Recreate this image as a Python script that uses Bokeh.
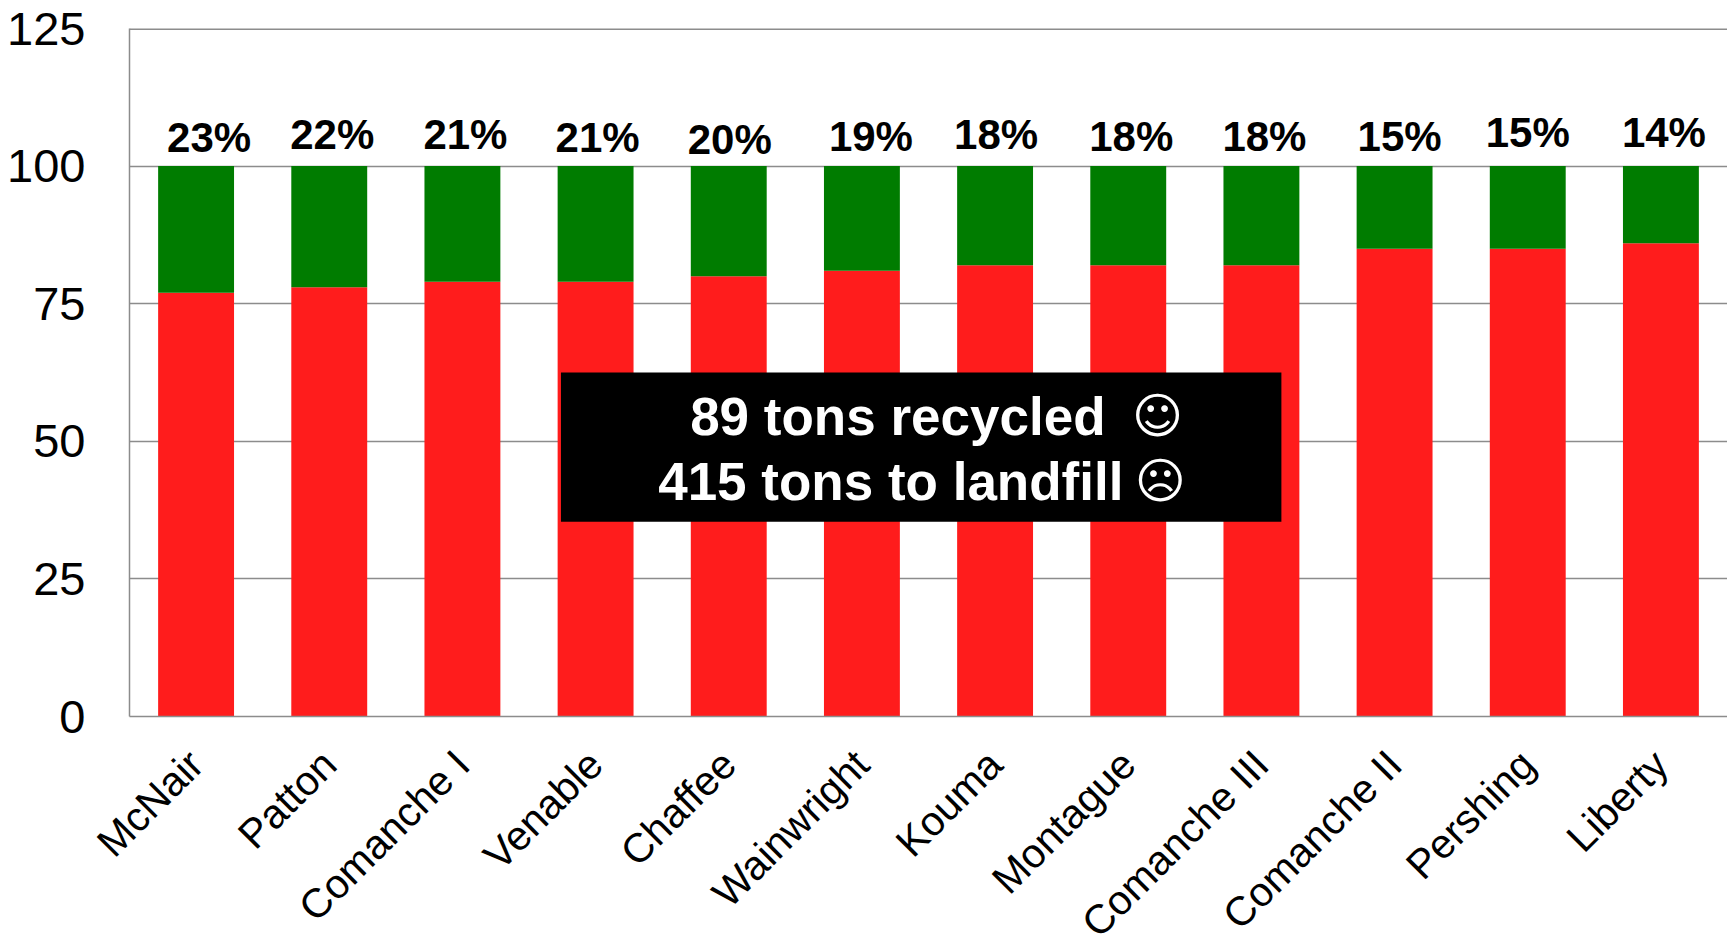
from math import pi
from bokeh.plotting import figure
from bokeh.models import ColumnDataSource, FactorRange, Range1d, BoxAnnotation, Label, Span
from bokeh.core.properties import value
from bokeh.embed import file_html
from bokeh.resources import INLINE

plants = ["McNair", "Patton", "Comanche I", "Venable", "Chaffee", "Wainwright", "Kouma",
          "Montague", "Comanche III", "Comanche II", "Pershing", "Liberty"]
landfill = [77, 78, 79, 79, 80, 81, 82, 82, 82, 85, 85, 86]
recycled = [23, 22, 21, 21, 20, 19, 18, 18, 18, 15, 15, 14]
y_ticks = [0, 25, 50, 75, 100, 125]
note_recycled = "89 tons recycled"
note_landfill = "415 tons to landfill"
face_happy = "\u263a"
face_sad = "\u2639"

label_dx = [13, 3, 3, 2, 1, 9, 1, 3, 3, 5, 0, 3]
label_dy = [-5, -8, -8, -5, -3, -6, -8, -6, -6, -6, -10, -10]

FONT = "Liberation Sans"
RED = "#FF1C1C"
GREEN = "#007C00"
GRID = "#8C8C8C"

p = figure(width=1720, height=935, x_range=FactorRange(factors=plants), y_range=Range1d(0, 125),
           frame_width=1598, frame_height=688,
           output_backend="svg", toolbar_location=None,
           min_border_left=129, min_border_right=0, min_border_top=28, min_border_bottom=219)
p.outline_line_color = None
p.background_fill_color = "white"
p.xgrid.visible = False
p.ygrid.grid_line_color = GRID
p.ygrid.grid_line_width = 1.5
p.ygrid.ticker = y_ticks
p.add_layout(Span(location=y_ticks[-1], dimension="width", line_color=GRID, line_width=3, level="underlay"))

src = ColumnDataSource(dict(plant=plants, landfill=landfill, recycled=recycled,
                            top=[a + b for a, b in zip(landfill, recycled)],
                            pct=[f"{v}%" for v in recycled], dx=label_dx, dy=label_dy))
p.vbar_stack(["landfill", "recycled"], x="plant", width=0.57, color=[RED, GREEN], line_color=None, source=src)
p.text(x="plant", y="top", text="pct", source=src, x_offset="dx", y_offset="dy",
       text_font=value(FONT), text_font_style="bold", text_font_size="42px", text_color="black",
       text_align="center", text_baseline="bottom")

p.yaxis.ticker = y_ticks
p.yaxis.major_tick_line_color = None
p.yaxis.minor_tick_line_color = None
p.yaxis.axis_line_color = GRID
p.yaxis.axis_line_width = 1.5
p.yaxis.major_label_text_font = FONT
p.yaxis.major_label_text_font_size = "47px"
p.yaxis.major_label_text_color = "black"
p.yaxis.major_label_standoff = 38

p.xaxis.major_tick_line_color = None
p.xaxis.axis_line_color = GRID
p.xaxis.axis_line_width = 1.5
p.xaxis.major_label_text_font = FONT
p.xaxis.major_label_text_font_size = "41px"
p.xaxis.major_label_text_color = "black"
p.xaxis.major_label_orientation = pi / 4
p.xaxis.major_label_standoff = 35

p.add_layout(BoxAnnotation(left=3.24, right=8.65, bottom=35.4, top=62.5, fill_color="black", fill_alpha=1,
                           line_color=None))
for txt, x, y in [(note_recycled, 4.21, 54.5), (note_landfill, 3.97, 42.7)]:
    p.add_layout(Label(x=x, y=y, text=txt, text_color="white", text_font=FONT, text_font_style="bold",
                       text_font_size="53px", text_align="left", text_baseline="alphabetic"))
for txt, x, y in [(face_happy, 7.72, 54.5), (face_sad, 7.74, 42.7)]:
    p.add_layout(Label(x=x, y=y, text=txt, text_color="white", text_font="DejaVu Sans",
                       text_font_size="49px", text_align="center", text_baseline="alphabetic"))

open("out.html", "w").write(file_html(p, INLINE))
